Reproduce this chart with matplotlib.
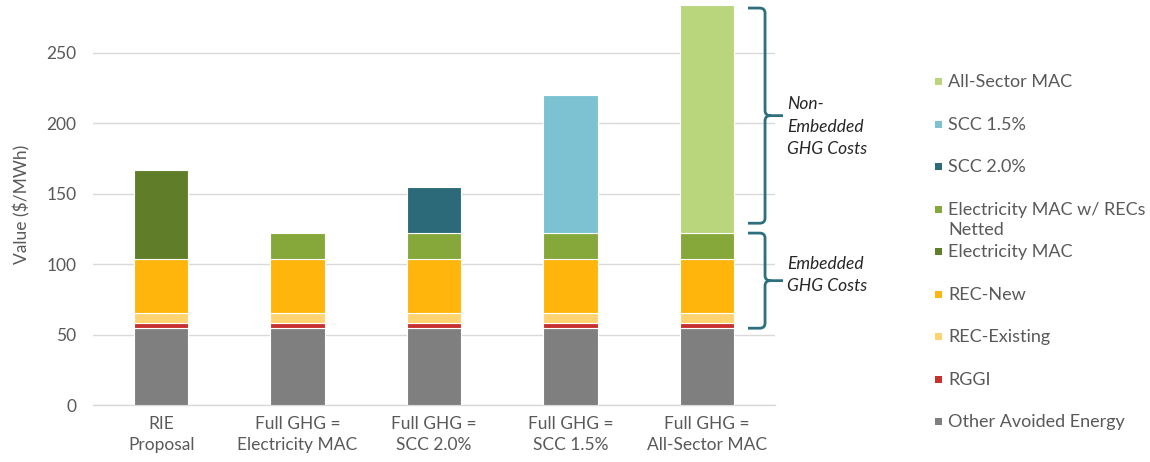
import matplotlib
matplotlib.use("Agg")
import matplotlib.pyplot as plt
import numpy as np
from matplotlib.patches import Rectangle, PathPatch
from matplotlib.path import Path

plt.rcParams['font.family'] = ['Lato', 'DejaVu Sans']

categories = ["RIE\nProposal", "Full GHG =\nElectricity MAC", "Full GHG =\nSCC 2.0%",
              "Full GHG =\nSCC 1.5%", "Full GHG =\nAll-Sector MAC"]

other_avoided = [54.5, 54.5, 54.5, 54.5, 54.5]
rggi = [3.5, 3.5, 3.5, 3.5, 3.5]
rec_existing = [7.0, 7.0, 7.0, 7.0, 7.0]
rec_new = [38.5, 38.5, 38.5, 38.5, 38.5]
elec_mac = [63.3, 0, 0, 0, 0]
elec_mac_netted = [0, 18.5, 18.5, 18.5, 18.5]
scc_20 = [0, 0, 33.0, 0, 0]
scc_15 = [0, 0, 0, 98.0, 0]
all_sector = [0, 0, 0, 0, 161.7]

series = [
    ("Other Avoided Energy", other_avoided, "#7F7F7F"),
    ("RGGI", rggi, "#C8302E"),
    ("REC-Existing", rec_existing, "#FFD36F"),
    ("REC-New", rec_new, "#FFB50B"),
    ("Electricity MAC", elec_mac, "#607D2A"),
    ("Electricity MAC w/ RECs\nNetted", elec_mac_netted, "#86A83A"),
    ("SCC 2.0%", scc_20, "#2C6A79"),
    ("SCC 1.5%", scc_15, "#7DC2D2"),
    ("All-Sector MAC", all_sector, "#B9D67D"),
]

TXT = "#595959"
W, H = 1150, 462
fig = plt.figure(figsize=(W / 100, H / 100), dpi=100)
ax = fig.add_axes([93 / W, (H - 405) / H, (775 - 93) / W, 401.6 / H])

x = np.arange(len(categories))
bottom = np.zeros(len(categories))
for name, vals, col in series:
    v = np.array(vals, dtype=float)
    m = v > 0
    ax.bar(x[m], v[m], 0.4, bottom=bottom[m], color=col, edgecolor="white",
           linewidth=0.8, zorder=3)
    bottom += v

ax.set_xlim(-0.5, 4.5)
ax.set_ylim(0, 285)
ax.set_yticks([0, 50, 100, 150, 200, 250])
ax.yaxis.grid(True, color="#D9D9D9", linewidth=1.0, zorder=0)
ax.set_axisbelow(True)
for s in ["top", "right", "left"]:
    ax.spines[s].set_visible(False)
ax.spines["bottom"].set_color("#D9D9D9")
ax.spines["bottom"].set_linewidth(1.0)
ax.tick_params(axis="both", length=0, labelsize=12.5, colors=TXT)
ax.tick_params(axis="y", pad=12)
ax.tick_params(axis="x", pad=8)
ax.set_xticks(x)
ax.set_xticklabels(categories, multialignment="center", linespacing=1.35)
ax.set_ylabel("Value ($/MWh)", fontsize=12.5, color=TXT, labelpad=11)

# braces
def brace(top, bot, color="#2E6F7E"):
    xa, xv, xt = 4.302, 4.427, 4.559
    rx, ry = 0.04, 3.6
    mid = (top + bot) / 2
    verts = [(xa, top), (xv - rx, top), (xv, top), (xv, top - ry), (xv, mid + ry),
             (xv, mid), (xv + rx, mid), (xt, mid),
             (xv + rx, mid), (xv, mid), (xv, mid - ry), (xv, bot + ry),
             (xv, bot), (xv - rx, bot), (xa, bot)]
    codes = [Path.MOVETO, Path.LINETO, Path.CURVE3, Path.CURVE3, Path.LINETO,
             Path.CURVE3, Path.CURVE3, Path.LINETO,
             Path.MOVETO, Path.CURVE3, Path.CURVE3, Path.LINETO,
             Path.CURVE3, Path.CURVE3, Path.LINETO]
    p = PathPatch(Path(verts, codes), fill=False, edgecolor=color, linewidth=2.0,
                  transform=ax.transData, clip_on=False, zorder=5, capstyle="butt")
    ax.add_patch(p)
    return mid

embedded_top = other_avoided[0] + rggi[0] + rec_existing[0] + rec_new[0] + elec_mac_netted[1]
total_max = max(bottom)
m1 = brace(total_max - 2, embedded_top + 7)
m2 = brace(embedded_top, other_avoided[0])
ax.text(4.588, m1 - 8, "Non-\nEmbedded\nGHG Costs", style="italic", fontsize=12.5,
        color="#262626", va="center", ha="left", linespacing=1.5, clip_on=False)
ax.text(4.588, m2 + 4, "Embedded\nGHG Costs", style="italic", fontsize=12.5,
        color="#262626", va="center", ha="left", linespacing=1.5, clip_on=False)

# legend (manual, Excel-like)
leg_y0 = 81.7
leg_dy = 42.5
for i, (name, vals, col) in enumerate(reversed(series)):
    yc = leg_y0 + i * leg_dy
    fig.add_artist(Rectangle((935 / W, (H - yc - 3.5) / H), 7 / W, 7 / H,
                             transform=fig.transFigure, facecolor=col, edgecolor="none"))
    first_line_center = (H - yc) / H
    fig.text(948 / W, first_line_center + 7.5 / H, name, fontsize=13, color=TXT,
             ha="left", va="top", linespacing=1.3)

fig.savefig("out.png", dpi=100)
